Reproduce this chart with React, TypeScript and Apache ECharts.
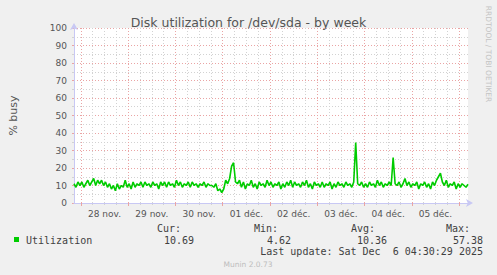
import React, { useEffect, useRef } from "react";
import * as echarts from "echarts";

// Half-hour slots from 27 nov. 20:30 to 06 déc. 04:30 (401 slots)
const SLOT_COUNT = 401;
const FIRST_MIDNIGHT_SLOT = 7; // 28 nov. 00:00
const FIRST_NOON_SLOT = 31; // 28 nov. 12:00
const dayLabels = ["28 nov.", "29 nov.", "30 nov.", "01 déc.", "02 déc.", "03 déc.", "04 déc.", "05 déc."];

// hourly utilization (% busy), one value per hour from 27 nov. 20:30
const utilization = [
  11, 9, 12, 10, 12, 9, 11, 13, 10, 12, 14, 10, 13, 11, 13, 10, 12,
  9, 11, 8, 10, 7, 11, 8, 10, 9, 13,
  9, 11, 8, 12, 9, 11, 10, 12, 9, 12, 10, 11, 9, 12, 10, 11, 8, 12,
  10, 12, 9, 12, 10, 11, 9, 13, 10, 12, 9, 11, 10, 12, 9, 12, 10, 11, 9, 11, 10, 12, 9, 11, 10, 10, 9, 11,
  7, 8, 6, 8,
  13, 11, 14,
  21, 23, 12,
  11, 13, 9, 12, 8, 11, 10, 13, 9, 11,
  8, 12, 10, 11, 9, 13, 10, 12, 9, 11,
  10, 12, 8, 11, 9, 12, 10, 13, 9, 12,
  10, 11, 9, 12, 10, 13, 9, 11, 8, 12,
  10, 11, 9, 12, 9, 11, 10, 12, 8, 11,
  9, 12, 10, 11, 9, 12, 10, 11, 9,
  12, 34.5, 11,
  10, 12, 9, 11, 9, 12, 10, 11, 9, 13, 10, 12, 9, 11, 10, 12, 10,
  26,
  11, 10, 12, 9, 11, 14, 10, 12, 9, 11, 10, 12, 8, 11, 10, 12, 9, 11, 8, 12, 10, 13,
  15, 17,
  12, 10, 13, 9, 11, 10, 12, 8, 11, 9, 11, 10, 9, 10.69,
];

const legendHeaders = ["Cur:", "Min:", "Avg:", "Max:"];
const legendValues = ["10.69", "4.62", "10.36", "57.38"];
const seriesName = "Utilization";
const lastUpdate = "Last update: Sat Dec  6 04:30:29 2025";

const slots = Array.from({ length: SLOT_COUNT }, (_, i) => String(i));

const isMajor = (i: number) => i >= FIRST_MIDNIGHT_SLOT && (i - FIRST_MIDNIGHT_SLOT) % 48 === 0;
const isMinor = (i: number) =>
  i >= FIRST_MIDNIGHT_SLOT && (i - FIRST_MIDNIGHT_SLOT) % 12 === 0 && !isMajor(i);
const isNoon = (i: number) => i >= FIRST_NOON_SLOT && (i - FIRST_NOON_SLOT) % 48 === 0;

const SANS = '"DejaVu Sans", sans-serif';
const MONO = '"DejaVu Sans Mono", monospace';
const RED = "#eaa4a4";
const GRAY = "#d2d2d2";
const AXIS = "#c8c8f4";
const TEXT = "#555555";
const LEG = "#404040";

export default function App() {
  const ref = useRef<HTMLDivElement>(null);
  useEffect(() => {
    if (!ref.current) return;
    const chart = echarts.init(ref.current, undefined, { renderer: "svg" });
    const headerRight = [181, 278, 375, 470];
    const valueRight = [194, 291, 387, 483];
    const graphics: any[] = [
      {
        type: "text",
        x: 488,
        y: 54,
        rotation: -Math.PI / 2,
        style: {
          text: "RRDTOOL / TOBI OETIKER",
          fill: "#c4c4c4",
          font: `7.5px ${SANS}`,
          textAlign: "center",
          textVerticalAlign: "middle",
        },
      },
      {
        type: "rect",
        shape: { x: 14, y: 237, width: 5, height: 5 },
        style: { fill: "#00cc00" },
      },
      {
        type: "text",
        x: 26,
        y: 240,
        style: { text: seriesName, fill: LEG, font: `10px ${MONO}`, textAlign: "left", textVerticalAlign: "middle" },
      },
      {
        type: "text",
        x: 483,
        y: 251,
        style: { text: lastUpdate, fill: LEG, font: `10px ${MONO}`, textAlign: "right", textVerticalAlign: "middle" },
      },
      {
        type: "text",
        x: 248,
        y: 264,
        style: { text: "Munin 2.0.73", fill: "#bdbdbd", font: `7.5px ${SANS}`, textAlign: "center", textVerticalAlign: "middle" },
      },
    ];
    legendHeaders.forEach((h, k) => {
      graphics.push({
        type: "text",
        x: headerRight[k],
        y: 228,
        style: { text: h, fill: LEG, font: `10px ${MONO}`, textAlign: "right", textVerticalAlign: "middle" },
      });
      graphics.push({
        type: "text",
        x: valueRight[k],
        y: 240,
        style: { text: legendValues[k], fill: LEG, font: `10px ${MONO}`, textAlign: "right", textVerticalAlign: "middle" },
      });
    });

    chart.setOption({
      animation: false,
      backgroundColor: "#f0f0f0",
      title: {
        text: "Disk utilization for /dev/sda - by week",
        left: "center",
        top: 11,
        textStyle: { fontFamily: SANS, fontSize: 12.5, fontWeight: "normal", color: TEXT },
      },
      grid: {
        left: 67,
        right: 29,
        top: 28,
        bottom: 72,
        show: true,
        backgroundColor: "#ffffff",
        borderWidth: 0,
      },
      xAxis: [
        {
          type: "category",
          data: slots,
          boundaryGap: false,
          position: "bottom",
          axisLine: {
            show: true,
            lineStyle: { color: AXIS, width: 1 },
            symbol: ["none", "arrow"],
            symbolSize: [6, 7],
            symbolOffset: [0, 5],
          },
          axisTick: {
            show: true,
            interval: (i: number) => isMajor(i),
            length: 3,
            lineStyle: { color: RED },
          },
          axisLabel: {
            interval: (i: number) => isNoon(i),
            formatter: (_v: string, i: number) => dayLabels[(i - FIRST_NOON_SLOT) / 48] ?? "",
            fontFamily: SANS,
            fontSize: 9,
            color: TEXT,
            margin: 6,
          },
          splitLine: {
            show: true,
            interval: (i: number) => isMajor(i),
            lineStyle: { color: RED, type: [1, 2], width: 1 },
          },
          z: 3,
        },
        {
          type: "category",
          data: slots,
          boundaryGap: false,
          position: "bottom",
          axisLine: { show: false },
          axisTick: {
            show: true,
            interval: (i: number) => isMinor(i),
            length: 2,
            lineStyle: { color: GRAY },
          },
          axisLabel: { show: false },
          splitLine: {
            show: true,
            interval: (i: number) => isMinor(i),
            lineStyle: { color: GRAY, type: [1, 2], width: 1 },
          },
          z: 2,
        },
      ],
      yAxis: {
        type: "value",
        min: 0,
        max: 100,
        interval: 10,
        name: "% busy",
        nameLocation: "middle",
        nameRotate: 90,
        nameGap: 55,
        nameTextStyle: { fontFamily: SANS, fontSize: 11, color: TEXT },
        axisLine: {
          show: true,
          lineStyle: { color: AXIS, width: 1 },
          symbol: ["none", "arrow"],
          symbolSize: [6, 7],
          symbolOffset: [0, 5],
        },
        axisTick: { show: true, length: 2, lineStyle: { color: RED } },
        minorTick: { show: true, splitNumber: 2, length: 2, lineStyle: { color: GRAY } },
        axisLabel: { fontFamily: SANS, fontSize: 9, color: TEXT, margin: 7 },
        splitLine: { show: true, lineStyle: { color: RED, type: [1, 2], width: 1 } },
        minorSplitLine: { show: true, lineStyle: { color: GRAY, type: [1, 2], width: 1 } },
      },
      series: [
        {
          name: seriesName,
          type: "line",
          xAxisIndex: 0,
          data: utilization.map((v, i) => [i * 2, v]),
          showSymbol: false,
          symbol: "none",
          lineStyle: { color: "#00cc00", width: 1.6 },
          z: 5,
        },
      ],
      graphic: graphics,
    });
    return () => chart.dispose();
  }, []);
  return (
    <div
      ref={ref}
      style={{ position: "fixed", left: 0, top: 0, width: 497, height: 275 }}
    />
  );
}
